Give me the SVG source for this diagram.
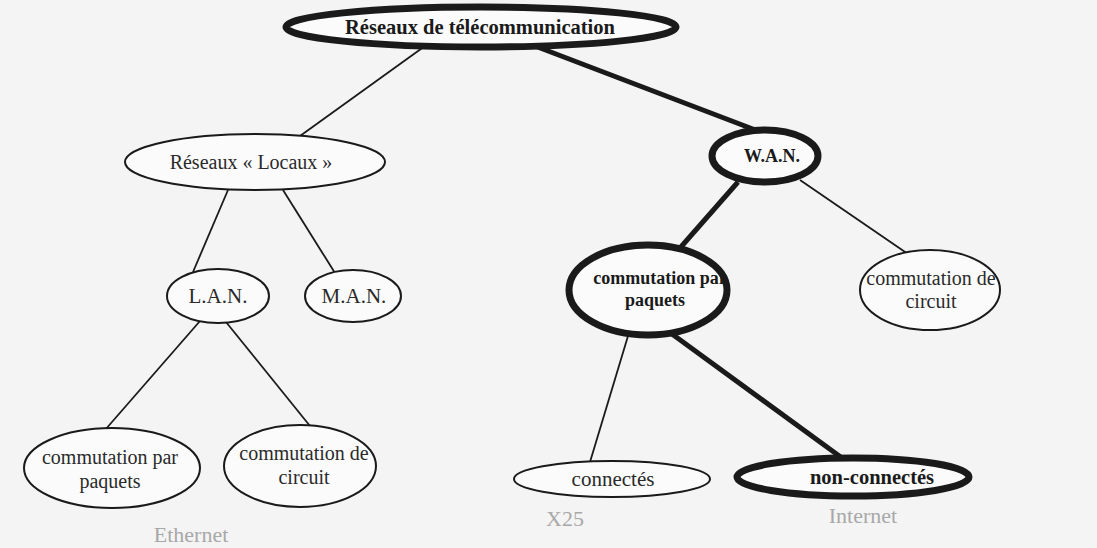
<svg xmlns="http://www.w3.org/2000/svg" width="1097" height="548" viewBox="0 0 1097 548">
  <style>
    .n { fill: #fbfbfb; stroke: #1a1a1a; stroke-width: 2; }
    .b { fill: #fbfbfb; stroke: #1a1a1a; stroke-width: 7; }
    .e { stroke: #1a1a1a; stroke-width: 1.8; fill: none; }
    .eb { stroke: #1a1a1a; stroke-width: 5; fill: none; }
    text { fill: #2a2a2a; text-anchor: middle; }
    .t { font-size: 20px; }
    .tb { font-size: 18px; font-weight: bold; fill: #1a1a1a; }
    .note { font-size: 22px; fill: #a8a8a8; }
  </style>
  <rect width="1097" height="548" fill="#f4f4f4"/>

  <g id="connectors">
    <line class="e" x1="425" y1="46" x2="300" y2="136"/>
    <line class="eb" x1="535" y1="46" x2="758" y2="131"/>
    <line class="e" x1="228" y1="190" x2="193" y2="272"/>
    <line class="e" x1="283" y1="190" x2="335" y2="273"/>
    <line class="eb" x1="738" y1="182" x2="680" y2="248"/>
    <line class="e" x1="800" y1="180" x2="908" y2="254"/>
    <line class="e" x1="200" y1="321" x2="105" y2="430"/>
    <line class="e" x1="226" y1="322" x2="310" y2="426"/>
    <line class="e" x1="628" y1="336" x2="590" y2="462"/>
    <line class="eb" x1="672" y1="334" x2="842" y2="458"/>
  </g>

  <g font-family="'Liberation Serif', 'DejaVu Serif', 'Times New Roman', serif">
    <g id="root">
      <ellipse class="b" cx="481" cy="27" rx="195" ry="20"/>
      <text class="tb" x="480" y="34" style="font-size:20.5px">Réseaux  de télécommunication</text>
    </g>

    <g id="locaux">
      <ellipse class="n" cx="255" cy="162" rx="130" ry="28"/>
      <text class="t" x="251" y="169">Réseaux  « Locaux »</text>
    </g>

    <g id="wan">
      <ellipse class="b" cx="765" cy="156" rx="53" ry="26"/>
      <text class="tb" x="772" y="162">W.A.N.</text>
    </g>

    <g id="lan">
      <ellipse class="n" cx="218" cy="296" rx="51" ry="27"/>
      <text class="t" x="218" y="303" style="font-size:21px">L.A.N.</text>
    </g>

    <g id="man">
      <ellipse class="n" cx="353" cy="296" rx="48" ry="26"/>
      <text class="t" x="354" y="303" style="font-size:21px">M.A.N.</text>
    </g>

    <g id="wan-paquets">
      <ellipse class="b" cx="648" cy="290" rx="79" ry="45"/>
      <text class="tb" x="660" y="284">commutation par</text>
      <text class="tb" x="655" y="306">paquets</text>
    </g>

    <g id="wan-circuit">
      <ellipse class="n" cx="930" cy="290" rx="70" ry="40"/>
      <text class="t" x="931" y="285">commutation de</text>
      <text class="t" x="931" y="308">circuit</text>
    </g>

    <g id="lan-paquets">
      <ellipse class="n" cx="112" cy="468" rx="88" ry="40"/>
      <text class="t" x="110" y="464">commutation par</text>
      <text class="t" x="110" y="488">paquets</text>
    </g>

    <g id="lan-circuit">
      <ellipse class="n" cx="300" cy="466" rx="76" ry="41"/>
      <text class="t" x="304" y="460">commutation de</text>
      <text class="t" x="304" y="484">circuit</text>
    </g>

    <g id="connectes">
      <ellipse class="n" cx="612" cy="479" rx="98" ry="18"/>
      <text class="t" x="613" y="486" style="font-size:21px">connectés</text>
    </g>

    <g id="non-connectes">
      <ellipse class="b" cx="853" cy="477" rx="116" ry="19"/>
      <text class="tb" x="872" y="484" style="font-size:20.5px">non-connectés</text>
    </g>

    <g id="examples">
      <text class="note" x="191" y="542">Ethernet</text>
      <text class="note" x="565" y="526">X25</text>
      <text class="note" x="863" y="523">Internet</text>
    </g>
  </g>
</svg>
